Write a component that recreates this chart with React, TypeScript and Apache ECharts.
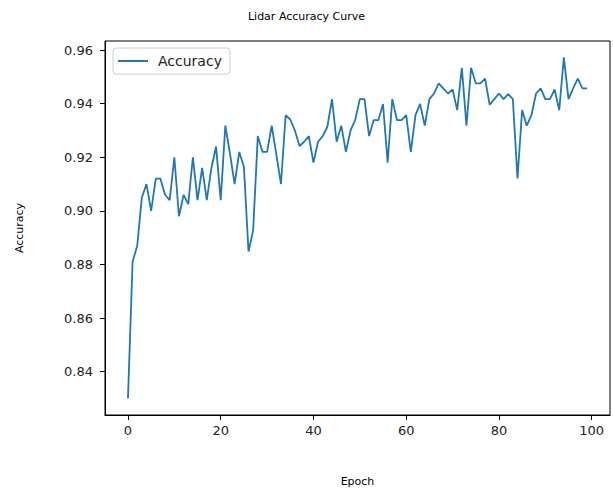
import React, { useEffect, useRef } from "react";
import * as echarts from "echarts";

const epochs: number[] = Array.from({ length: 100 }, (_, i) => i);
const accuracy: number[] = [
  0.830, 0.881, 0.887, 0.905, 0.910, 0.900, 0.912, 0.912, 0.906, 0.904,
  0.920, 0.898, 0.906, 0.9025, 0.920, 0.904, 0.916, 0.904, 0.916, 0.924,
  0.904, 0.9318, 0.9214, 0.910, 0.922, 0.9165, 0.8848, 0.8928, 0.9279, 0.922,
  0.922, 0.9318, 0.921, 0.910, 0.9357, 0.9341, 0.930, 0.9242, 0.9258, 0.9279,
  0.918, 0.9258, 0.9279, 0.9314, 0.9417, 0.9258, 0.9318, 0.922, 0.930, 0.9339,
  0.9417, 0.9417, 0.9279, 0.9339, 0.9339, 0.9399, 0.918, 0.9417, 0.9339, 0.9339,
  0.9357, 0.922, 0.9357, 0.9399, 0.9318, 0.9417, 0.9438, 0.9476, 0.9457, 0.9438,
  0.9453, 0.9376, 0.9534, 0.9318, 0.9534, 0.9476, 0.9476, 0.9494, 0.9396, 0.9417,
  0.9438, 0.9417, 0.9436, 0.9417, 0.9121, 0.9376, 0.9318, 0.9357, 0.9438, 0.9457,
  0.9417, 0.9417, 0.9453, 0.9376, 0.9573, 0.9417, 0.9457, 0.9494, 0.9457, 0.9457,
];
const xTicks: number[] = [0, 20, 40, 60, 80, 100];
const yTicks: number[] = [0.84, 0.86, 0.88, 0.9, 0.92, 0.94, 0.96];

const FONT = "DejaVu Sans";

export default function App() {
  const ref = useRef<HTMLDivElement>(null);
  useEffect(() => {
    if (!ref.current) return;
    const chart = echarts.init(ref.current, null, { renderer: "svg" });
    chart.setOption({
      animation: false,
      backgroundColor: "#ffffff",
      title: {
        text: "Lidar Accuracy Curve",
        left: "center",
        top: 6,
        textStyle: { fontFamily: FONT, fontSize: 11, fontWeight: "normal", color: "#000" },
      },
      legend: {
        left: 113,
        top: 48,
        orient: "vertical",
        icon: "rect",
        itemWidth: 30,
        itemHeight: 2,
        padding: [6, 8, 6, 5],
        borderColor: "#cccccc",
        borderWidth: 1,
        borderRadius: 3,
        backgroundColor: "rgba(255,255,255,0.8)",
        textStyle: { fontFamily: FONT, fontSize: 14, color: "#222", padding: [0, 0, 0, 5] },
        data: ["Accuracy"],
      },
      grid: { left: 105, right: 3, top: 41, bottom: 80, show: true, borderColor: "#000", borderWidth: 1 },
      xAxis: {
        type: "value",
        min: -4.95,
        max: 103.95,
        name: "Epoch",
        nameLocation: "middle",
        nameGap: 61,
        nameTextStyle: { fontFamily: FONT, fontSize: 11, color: "#000" },
        axisLine: { show: true, onZero: false, lineStyle: { color: "#000", width: 1 } },
        axisTick: { show: true, length: 5, lineStyle: { color: "#000" }, customValues: xTicks },
        axisLabel: {
          customValues: xTicks,
          margin: 9,
          fontFamily: FONT,
          fontSize: 13,
          color: "#222",
        },
        splitLine: { show: false },
      },
      yAxis: {
        type: "value",
        min: 0.8238,
        max: 0.9634,
        name: "Accuracy",
        nameLocation: "middle",
        nameGap: 80,
        nameTextStyle: { fontFamily: FONT, fontSize: 11, color: "#000" },
        axisLine: { show: true, onZero: false, lineStyle: { color: "#000", width: 1 } },
        axisTick: { show: true, length: 5, lineStyle: { color: "#000" }, customValues: yTicks },
        axisLabel: {
          customValues: yTicks,
          margin: 12,
          fontFamily: FONT,
          fontSize: 13,
          color: "#222",
          formatter: (v: number) => v.toFixed(2),
        },
        splitLine: { show: false },
      },
      series: [
        {
          name: "Accuracy",
          type: "line",
          data: epochs.map((e, i) => [e, accuracy[i]]),
          showSymbol: false,
          symbol: "none",
          lineStyle: { color: "#1f77b4", width: 1.8 },
          itemStyle: { color: "#1f77b4" },
        },
      ],
    });
    return () => chart.dispose();
  }, []);
  return <div ref={ref} style={{ width: 613, height: 495, position: "absolute", left: 0, top: 0 }} />;
}
